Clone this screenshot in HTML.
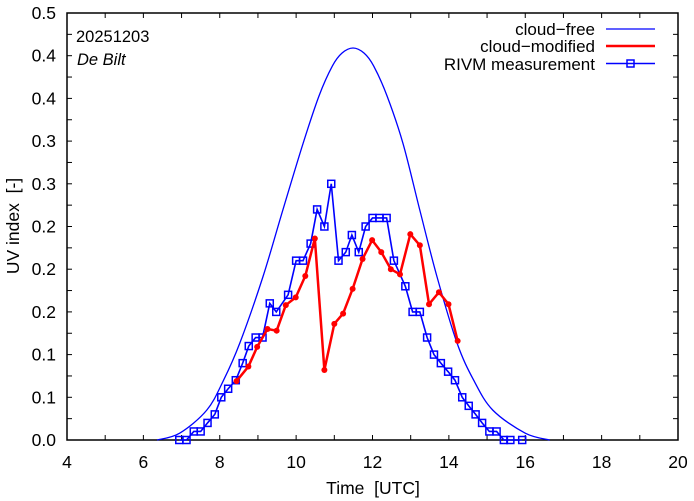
<!DOCTYPE html>
<html><head><meta charset="utf-8"><style>
html,body{margin:0;padding:0;background:#fff;}
svg{display:block;font-family:"Liberation Sans",sans-serif;}
text{white-space:pre;}
</style></head><body>
<svg id="chart" width="694" height="501" viewBox="0 0 694 501">
<rect x="0" y="0" width="694" height="501" fill="#fff"/>
<g id="axes"></g>
<g id="series"></g>
<text x="76" y="42" font-size="16.5" fill="#000">20251203</text>
<text x="77" y="65" font-size="16.5" font-style="italic" fill="#000">De Bilt</text>
<g>
<text x="595" y="35" font-size="17" text-anchor="end">cloud−free</text>
<line x1="606" y1="29" x2="655" y2="29" stroke="#0000ff" stroke-width="1.3"/>
<text x="595" y="52" font-size="17" text-anchor="end">cloud−modified</text>
<line x1="606" y1="46" x2="655" y2="46" stroke="#ff0000" stroke-width="2.5"/>
<text x="595" y="70" font-size="17" text-anchor="end">RIVM measurement</text>
<line x1="606" y1="63.5" x2="655" y2="63.5" stroke="#0000ff" stroke-width="1.5"/>
<rect x="627" y="60" width="7" height="7" fill="none" stroke="#0000ff" stroke-width="1.5"/>
</g>
<text x="373" y="494" font-size="17.5" text-anchor="middle" xml:space="preserve">Time  [UTC]</text>
<text transform="translate(19,226) rotate(-90)" font-size="17.5" text-anchor="middle" xml:space="preserve">UV index  [-]</text>
</svg>
<script>
const xTicks=[4,6,8,10,12,14,16,18,20];
const yTickVals=[0,0.05,0.1,0.15,0.2,0.25,0.3,0.35,0.4,0.45,0.5];
const yTickLabels=["0.0","0.1","0.1","0.2","0.2","0.2","0.3","0.3","0.4","0.4","0.5"];
const cfTimes=[6.36,6.95,7.66,8.1,8.53,9.13,9.65,10.18,10.6,10.95,11.2,11.49,11.78,12.03,12.38,12.8,13.24,13.69,14.21,14.65,15.15,16.0,16.64];
const cfValues=[0,0.008,0.035,0.07,0.114,0.191,0.269,0.347,0.403,0.438,0.453,0.459,0.453,0.438,0.403,0.347,0.269,0.191,0.114,0.07,0.035,0.008,0];
const cmTimes=[8.44,8.75,8.98,9.25,9.49,9.73,9.99,10.24,10.49,10.74,11.0,11.23,11.48,11.74,11.99,12.23,12.48,12.72,12.99,13.24,13.48,13.74,13.99,14.23];
const cmValues=[0.069,0.086,0.109,0.130,0.128,0.158,0.167,0.192,0.236,0.082,0.136,0.148,0.177,0.212,0.234,0.22,0.2,0.194,0.241,0.228,0.159,0.173,0.159,0.116];
const msTimes=[6.94,7.13,7.32,7.50,7.68,7.87,8.04,8.22,8.42,8.60,8.76,8.94,9.12,9.31,9.48,9.79,10.0,10.18,10.38,10.55,10.74,10.92,11.11,11.30,11.46,11.64,11.82,12.0,12.18,12.37,12.56,12.86,13.05,13.24,13.43,13.61,13.79,13.98,14.16,14.35,14.52,14.70,14.87,15.06,15.25,15.44,15.61,15.92];
const msValues=[0,0,0.01,0.01,0.02,0.03,0.05,0.06,0.07,0.09,0.11,0.12,0.12,0.16,0.15,0.17,0.21,0.21,0.23,0.27,0.25,0.30,0.21,0.22,0.24,0.22,0.25,0.26,0.26,0.26,0.21,0.18,0.15,0.15,0.12,0.10,0.09,0.08,0.07,0.05,0.04,0.03,0.02,0.01,0.01,0,0,0];

const NS="http://www.w3.org/2000/svg";
const L=67,R=678,T=13,B=440;
const xs=t=>L+(t-4)/16*(R-L);
const ys=v=>B-v/0.5*(B-T);
const axes=document.getElementById('axes');
const series=document.getElementById('series');
function mk(tag,attrs,parent){const e=document.createElementNS(NS,tag);for(const k in attrs)e.setAttribute(k,attrs[k]);parent.appendChild(e);return e;}

for(let h=4;h<=20;h++){
  const x=xs(h);
  const t1=mk('line',{x1:x,y1:B,x2:x,y2:B-5,stroke:'#000','stroke-width':1},axes);
  
  
  const t2=mk('line',{x1:x,y1:T,x2:x,y2:T+5,stroke:'#000','stroke-width':1},axes);
  
  
}
xTicks.forEach(h=>{
  const tx=mk('text',{x:xs(h),y:468,'font-size':17.5,'text-anchor':'middle'},axes);
  tx.textContent=h;
  
  
});
for(let i=0;i<=20;i++){
  const y=ys(i*0.025);
  const t1=mk('line',{x1:L,y1:y,x2:L+5,y2:y,stroke:'#000','stroke-width':1},axes);
  
  
  const t2=mk('line',{x1:R,y1:y,x2:R-5,y2:y,stroke:'#000','stroke-width':1},axes);
  
  
}
yTickVals.forEach((v,i)=>{
  const tx=mk('text',{x:56,y:ys(v)+6,'font-size':17.5,'text-anchor':'end'},axes);
  tx.textContent=yTickLabels[i];
  
  
});
const frame=mk('rect',{x:L,y:T,width:R-L,height:B-T,fill:'none',stroke:'#000','stroke-width':1.5},axes);



const P=cfTimes.map((t,i)=>[xs(t),ys(cfValues[i])]);
let d='M'+P[0][0]+','+P[0][1];
for(let i=0;i<P.length-1;i++){
  const p0=P[Math.max(0,i-1)],p1=P[i],p2=P[i+1],p3=P[Math.min(P.length-1,i+2)];
  const c1=[p1[0]+(p2[0]-p0[0])/6,p1[1]+(p2[1]-p0[1])/6];
  const c2=[p2[0]-(p3[0]-p1[0])/6,p2[1]-(p3[1]-p1[1])/6];
  d+=' C'+c1+' '+c2+' '+p2;
}
const cf=mk('path',{d:d,fill:'none',stroke:'#0000ff','stroke-width':1.3},series);



const ms=mk('polyline',{points:msTimes.map((t,i)=>xs(t)+','+ys(msValues[i])).join(' '),fill:'none',stroke:'#0000ff','stroke-width':1.6},series);


msTimes.forEach((t,i)=>{
  const r=mk('rect',{x:xs(t)-3.5,y:ys(msValues[i])-3.5,width:7,height:7,fill:'none',stroke:'#0000ff','stroke-width':1.5},series);
  
  
});

const cm=mk('polyline',{points:cmTimes.map((t,i)=>xs(t)+','+ys(cmValues[i])).join(' '),fill:'none',stroke:'#ff0000','stroke-width':2.5,'stroke-linejoin':'round'},series);


cmTimes.forEach((t,i)=>{
  const c=mk('circle',{cx:xs(t),cy:ys(cmValues[i]),r:3,fill:'#ff0000'},series);
  
  
});
</script>
</body></html>
